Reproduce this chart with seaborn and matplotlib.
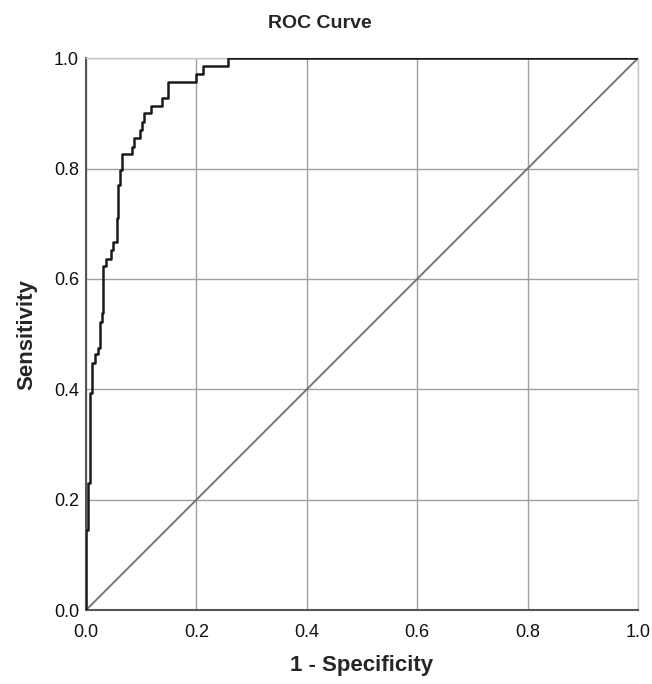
import pandas as pd
import seaborn as sns
import matplotlib.pyplot as plt

# ROC curve vertices (step curve: jump at fpr to tpr)
fpr = [0.0, 0.0, 0.003, 0.007, 0.0115, 0.016, 0.022, 0.025, 0.028, 0.031,
       0.036, 0.045, 0.0495, 0.0556, 0.0586, 0.0616, 0.0646, 0.083, 0.0876,
       0.098, 0.102, 0.105, 0.117, 0.138, 0.149, 0.199, 0.2125, 0.257, 1.0]
tpr = [0.0, 0.145, 0.23, 0.393, 0.447, 0.464, 0.475, 0.522, 0.5375, 0.623,
       0.637, 0.652, 0.667, 0.710, 0.770, 0.797, 0.826, 0.839, 0.855,
       0.870, 0.885, 0.900, 0.913, 0.927, 0.956, 0.971, 0.986, 1.0, 1.0]
ref_x = [0.0, 1.0]
ref_y = [0.0, 1.0]
ticks = [0.0, 0.2, 0.4, 0.6, 0.8, 1.0]

sns.set_style('white')
plt.rcParams['font.family'] = ['Liberation Sans', 'DejaVu Sans']

fig = plt.figure(figsize=(6.52, 6.84), dpi=100)
ax = fig.add_axes([0.132, 0.108, 0.8465, 0.807])

roc = pd.DataFrame({'fpr': fpr, 'tpr': tpr})
sns.lineplot(data=roc, x='fpr', y='tpr', estimator=None, sort=False,
             drawstyle='steps-post', color='#1a1a1a', linewidth=1.8, ax=ax, zorder=4)
sns.lineplot(x=ref_x, y=ref_y, color='#6e6e6e', linewidth=1.3, ax=ax, zorder=3)

ax.set_xlim(0, 1)
ax.set_ylim(0, 1)
ax.set_xticks(ticks)
ax.set_yticks(ticks)
ax.set_xticklabels([f'{t:.1f}' for t in ticks], fontsize=13, color='#111111')
ax.set_yticklabels([f'{t:.1f}' for t in ticks], fontsize=13, color='#111111')
ax.tick_params(axis='x', pad=10, length=0)
ax.tick_params(axis='y', pad=5, length=0)
ax.grid(True, color='#a0a0a0', linewidth=1.0)
ax.set_axisbelow(True)

for side in ['top', 'right']:
    ax.spines[side].set_color('#c8c8c8')
    ax.spines[side].set_linewidth(1.0)
for side in ['left', 'bottom']:
    ax.spines[side].set_color('#555555')
    ax.spines[side].set_linewidth(1.5)

ax.set_xlabel('1 - Specificity', fontsize=16, fontweight='bold', labelpad=10)
ax.set_ylabel('Sensitivity', fontsize=16, fontweight='bold', labelpad=12)
fig.text(0.49, 0.965, 'ROC Curve', ha='center', va='center',
         fontsize=14, fontweight='bold')

fig.savefig('out.png', dpi=100)
